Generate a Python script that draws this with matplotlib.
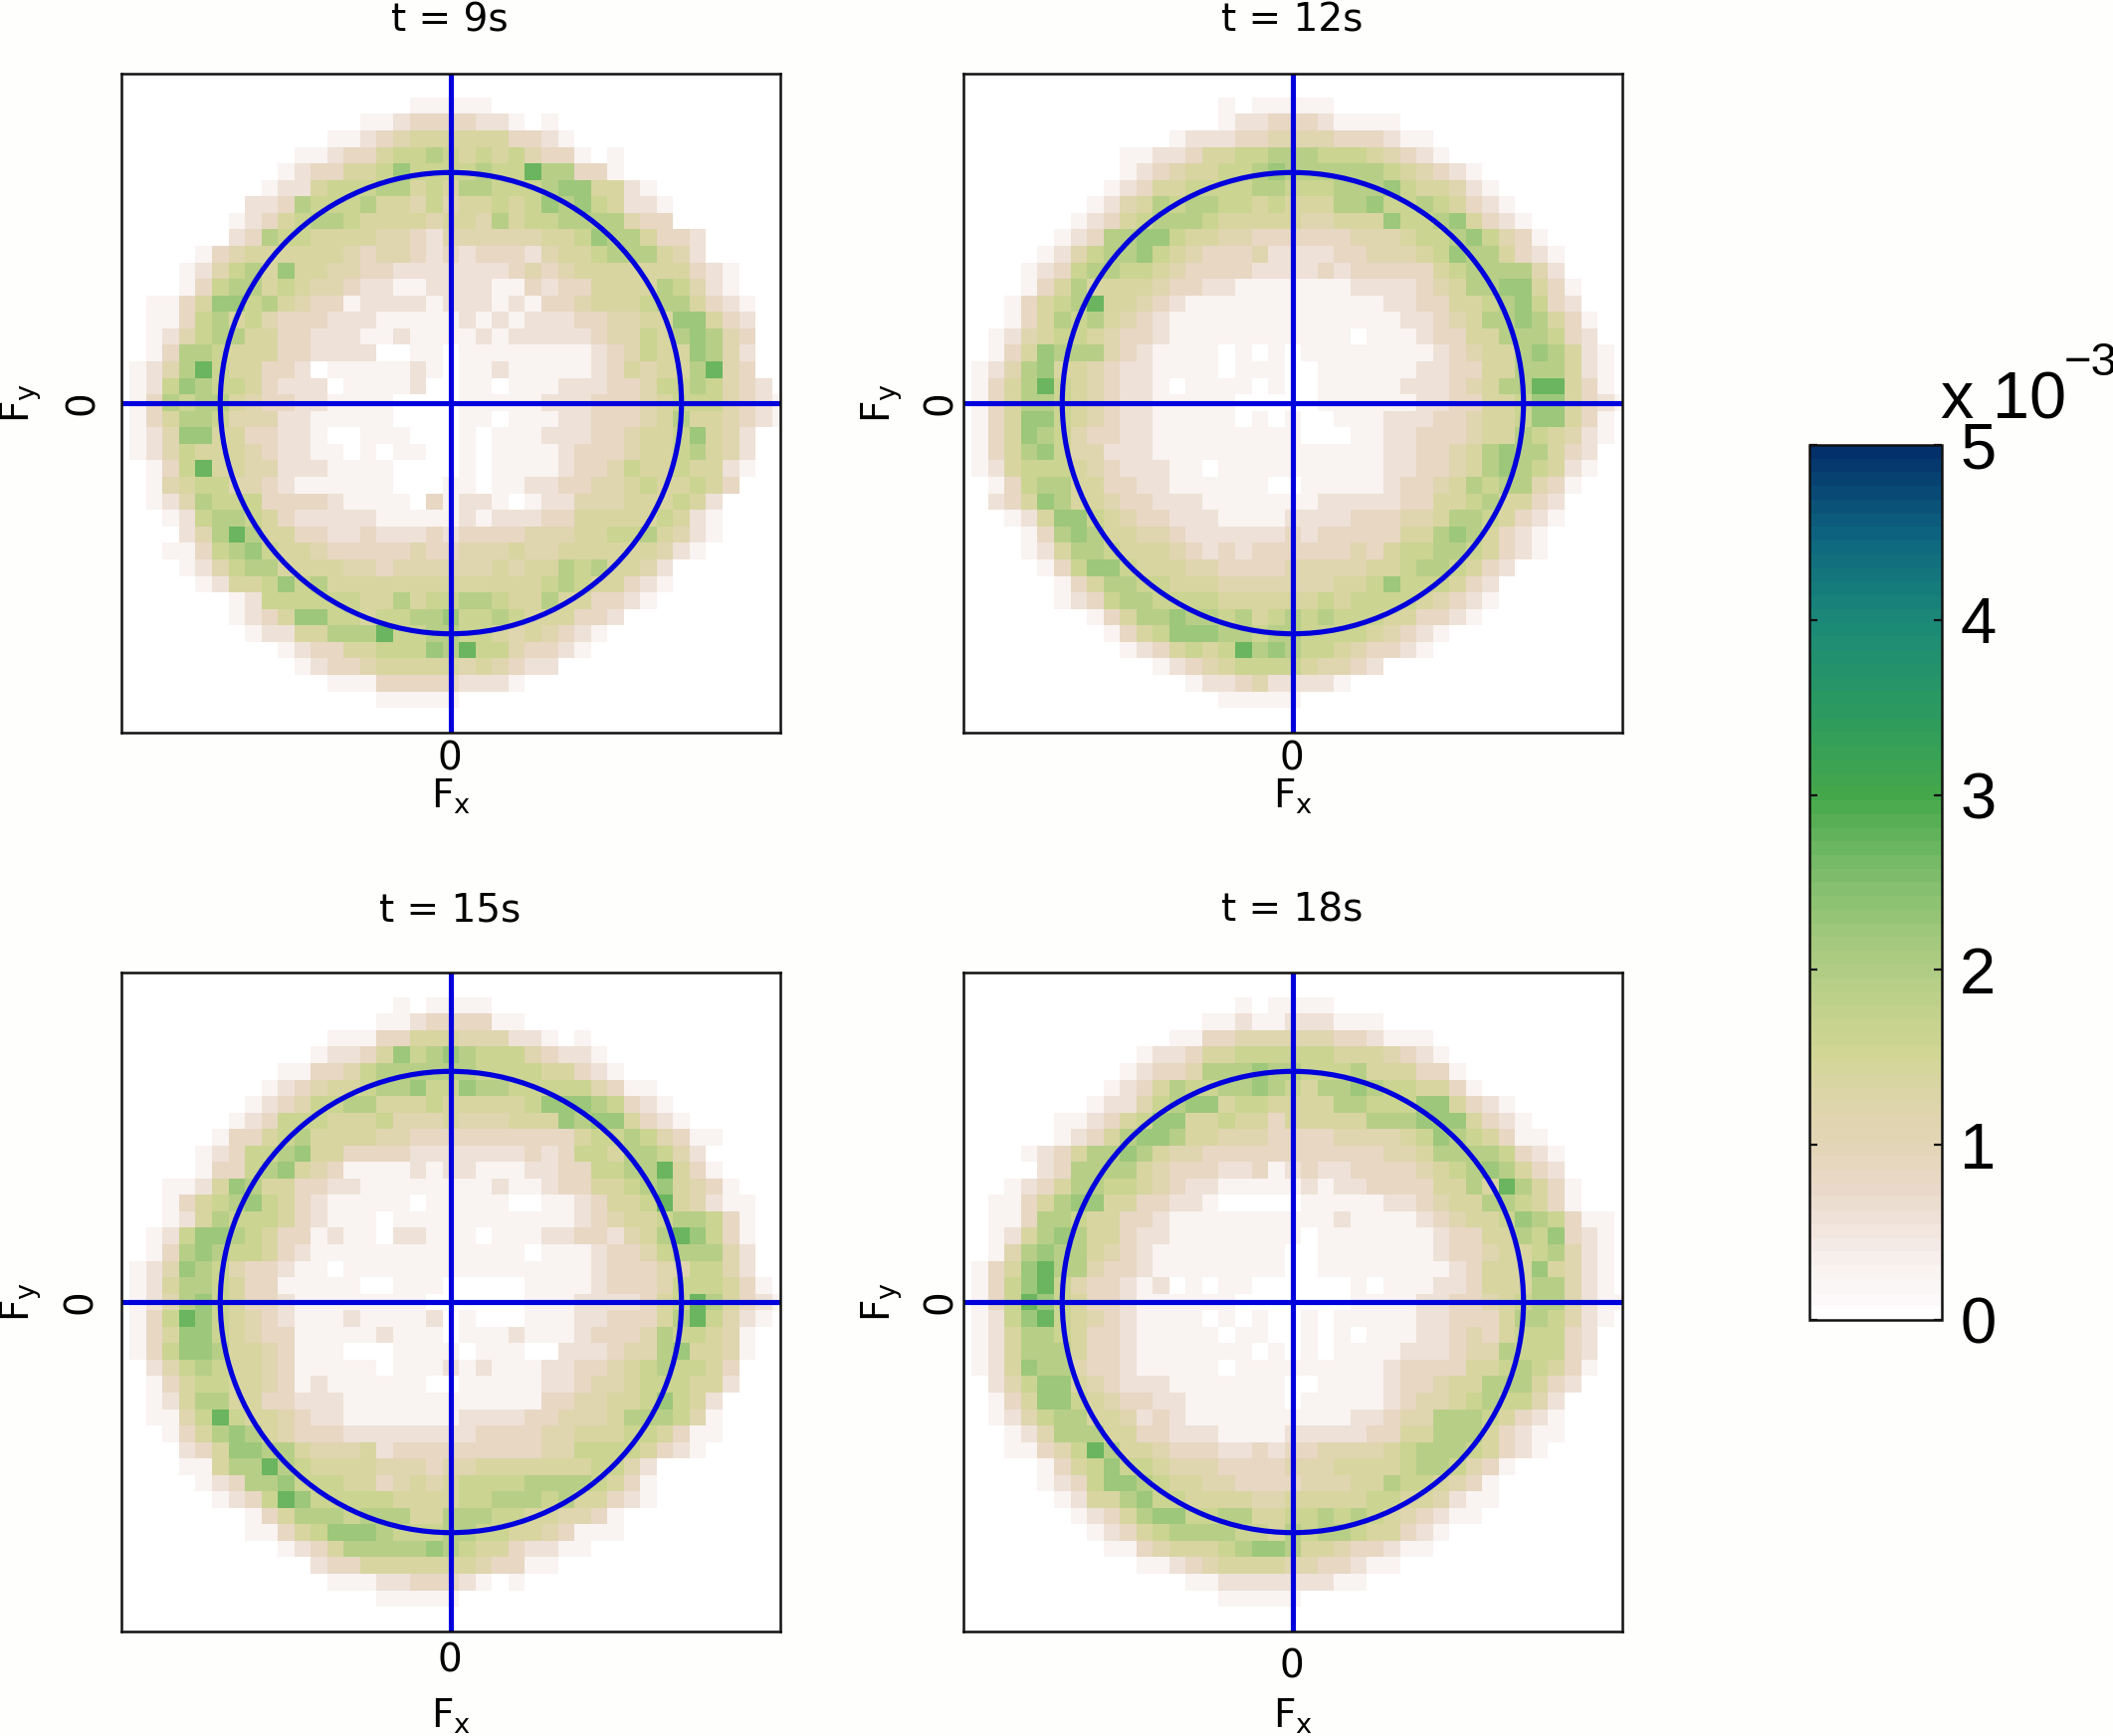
import matplotlib
matplotlib.use("Agg")
import matplotlib.pyplot as plt
import numpy as np
from matplotlib.colors import LinearSegmentedColormap
from matplotlib.patches import Circle

W, H = 2123, 1744

# each digit is a shade, LEVELS gives its value in units of 1e-3
LEVELS = [0.0, 0.3, 0.55, 0.85, 1.1, 1.4, 1.62, 1.9, 2.25, 2.7]

T9 = [
    "0000000000 0000000000 0000000000 0000000000 0",
    "0000000000 0000000000 0000000000 0000000000 0",
    "0000000000 0000000011 1110000000 0000000000 0",
    "0000000000 0000011233 3322101000 0000000000 0",
    "0000000000 0001123455 5555332100 0000000000 0",
    "0000000000 0112335667 6565643310 1000000000 0",
    "0000000000 1233556866 6676697733 1000000000 0",
    "0000000001 2256667756 5776667885 5210000000 0",
    "0000000022 3766675546 4556568786 5221000000 0",
    "0000000123 5677655554 5547566777 7433000000 0",
    "0000000237 6655554432 4444445568 7753320000 0",
    "0000013455 5555434432 3233324556 7775420000 0",
    "0000124675 8554433222 2222343455 5555532100 0",
    "0000136775 6544322112 2221132335 5557642100 0",
    "0011358867 5433122221 2221213345 5567753210 0",
    "0011367564 3332221111 1212122233 4455885320 0",
    "0012467755 3322211211 1121222223 4465787430 0",
    "0013776555 3322220011 0111111112 3465587420 0",
    "0124796553 3201111121 0112111112 3545579430 0",
    "0126876653 2220111120 0110111222 3346676432 0",
    "0137677543 3221111000 0111112223 3345666432 1",
    "0135776444 2211111000 0110111223 3345755432 1",
    "0124885533 2210011100 0101112223 3455685420 0",
    "0124655543 2211010110 0101111233 3455675420 0",
    "0013695544 2221111000 0101111233 4655655210 0",
    "0014566443 2111111000 1101122334 4565565300 0",
    "0012476663 3332111103 1221012244 4555652000 0",
    "0001267765 3222221111 1212223355 5556521000 0",
    "0000247975 5332232223 2333344455 6675421000 0",
    "0001136786 5543333343 3444544555 5554210000 0",
    "0000124677 5555443444 4445455767 5542000000 0",
    "0000012556 8675555555 5555556765 5321000000 0",
    "0000000126 6666655756 6776557553 3210000000 0",
    "0000000123 5886656677 8667655533 2000000000 0",
    "0000000012 2557779667 7665454321 0000000000 0",
    "0000000000 1233556668 7966433210 0000000000 0",
    "0000000000 0123345555 5454322000 0000000000 0",
    "0000000000 0001113333 3222100000 0000000000 0",
    "0000000000 0000001111 1000000000 0000000000 0",
    "0000000000 0000000000 0000000000 0000000000 0",
    "0000000000 0000000000 0000000000 0000000000 0",
]

T12 = [
    "0000000000 0000000000 0000000000 0000000000 0",
    "0000000000 0000000000 0000000000 0000000000 0",
    "0000000000 0000001011 1110000000 0000000000 0",
    "0000000000 0000001223 3321111000 0000000000 0",
    "0000000000 0001222334 4443332110 0000000000 0",
    "0000000000 1122355667 7766654321 0000000000 0",
    "0000000000 1234556678 7777776543 2100000000 0",
    "0000000001 2355666677 6667778655 4210000000 0",
    "0000000012 4576776656 5557786676 5321000000 0",
    "0000000123 5677765555 5445558667 8532100000 0",
    "0000001237 7886554433 3333444566 7864310000 0",
    "0000012467 7865433342 2223344456 8775321000 0",
    "0000123677 6654333322 2232333335 6777742000 0",
    "0000135755 5543322111 1111222234 5778853100 0",
    "0001356795 5432111111 1111112233 5567863200 0",
    "0001357675 4321111111 1111111223 4577875310 0",
    "0012456654 3321111111 1111011123 3557776320 0",
    "0013587774 3211110101 0111111112 3455787521 0",
    "0124785543 2211110111 0011111122 3355777521 0",
    "0135796543 2210111101 0011111222 3457799531 0",
    "0135776543 2211111000 0011111122 3355688532 1",
    "0135886543 2211111010 1001112223 3455688531 0",
    "0135876433 2211111111 1000112233 3455765421 0",
    "0135786442 2211111111 1111112233 4578775320 0",
    "0125666543 2221101111 1111112233 4578765210 0",
    "0013677553 3221111110 0111112334 5767743100 0",
    "0023587554 3322211111 1122222335 5675532000 0",
    "0001258865 4332221111 2222333445 7765321000 0",
    "0000137875 5443222222 3233333557 8753210000 0",
    "0000125776 5554323233 3333435667 7653210000 0",
    "0000013688 6555443333 4444455677 6532000000 0",
    "0000001357 7665554444 4445568666 5320000000 0",
    "0000001236 7766665555 5565666654 3210000000 0",
    "0000000013 5778776756 7676665533 2100000000 0",
    "0000000001 3568887767 7666654321 0000000000 0",
    "0000000000 1235656978 7665433210 0000000000 0",
    "0000000000 0012345666 6544320000 0000000000 0",
    "0000000000 0000122342 2221000000 0000000000 0",
    "0000000000 0000001111 1000000000 0000000000 0",
    "0000000000 0000000000 0000000000 0000000000 0",
    "0000000000 0000000000 0000000000 0000000000 0",
]

T15 = [
    "0000000000 0000000000 0000000000 0000000000 0",
    "0000000000 0000000000 0000000000 0000000000 0",
    "0000000000 0000000101 1110000000 0000000000 0",
    "0000000000 0000001123 3331100000 0000000000 0",
    "0000000000 0001113355 5444221010 0000000000 0",
    "0000000000 0012235867 8766643221 0000000000 0",
    "0000000000 1133467777 7766665532 1000000000 0",
    "0000000001 2345567786 6877666664 3110000000 0",
    "0000000012 3466775556 5555568887 6321000000 0",
    "0000000123 6665556444 5444555878 8532100000 0",
    "0000001335 6755554433 3333333356 6764311000 0",
    "0000012366 7855333322 2222232366 5776420000 0",
    "0000013367 8543111121 2211122336 6779531000 0",
    "0001125875 5332211111 1112112335 5678543100 0",
    "0001356786 5321111101 1111001123 5569542110 0",
    "0001257666 5321110111 1111111123 4556776310 0",
    "0012688765 3312110221 1101112233 2457986310 0",
    "0013787665 3211111111 1111101112 3346777420 0",
    "0124876433 2110111111 1111111112 3334466420 0",
    "0125776533 1111100111 0000011112 3334666531 0",
    "0124786533 2111111110 0000011122 2235697532 1",
    "0136986543 2111211112 0100011122 3335796421 0",
    "0135886543 3111112111 0111211123 3347665410 0",
    "0136887554 3111000111 1011100222 3447855410 0",
    "0024676554 3111110111 2121112233 4567665300 0",
    "0013566554 3121111110 0111112234 4566655200 0",
    "0012577553 3222111111 1111113344 5568652000 0",
    "0011469655 4322111111 1222233444 5777641000 0",
    "0001357875 4333222222 2233334455 5665311000 0",
    "0000235887 7544452333 3333334466 6653210000 0",
    "0000115779 7655554443 4455555556 6420000000 0",
    "0000012377 8666553454 5666677776 5310000000 0",
    "0000001236 9866666555 5667776755 3210000000 0",
    "0000000013 5777677755 7776655443 1000000000 0",
    "0000000011 3568887666 7766554311 1000000000 0",
    "0000000000 1235777778 7655322110 0000000000 0",
    "0000000000 0023355555 5543311000 0000000000 0",
    "0000000000 0001112233 3210100000 0000000000 0",
    "0000000000 0000001111 1000000000 0000000000 0",
    "0000000000 0000000000 0000000000 0000000000 0",
    "0000000000 0000000000 0000000000 0000000000 0",
]

T18 = [
    "0000000000 0000000000 0000000000 0000000000 0",
    "0000000000 0000000000 0000000000 0000000000 0",
    "0000000000 0000000101 1110000000 0000000000 0",
    "0000000000 0000011211 2221110000 0000000000 0",
    "0000000000 0001133444 4443321110 0000000000 0",
    "0000000000 0122355666 6665554321 0000000000 0",
    "0000000000 1233477787 7666755533 1000000000 0",
    "0000000001 2357667787 6577876655 3100000000 0",
    "0000000012 2467885665 5557766688 5321000000 0",
    "0000001123 5688556553 5555577788 8532100000 0",
    "0000001235 7887554443 3334444568 7653110000 0",
    "0000123577 8754433333 3333334457 7776321000 0",
    "0000023777 7543332231 2322333345 6787532000 0",
    "0001235776 6543221111 1212233335 5759753100 0",
    "0011357885 5332210000 0111112234 5577653100 0",
    "0011377655 3321111111 1112111123 4556876311 0",
    "0012578755 3221111111 1011111112 3355768321 0",
    "0014787754 3211111111 0011111112 3345567421 0",
    "0135897743 3211111111 0011111111 2355585421 0",
    "0136896433 2120101100 0000101112 2355577421 0",
    "0136986533 2111111000 0000111122 3345677421 1",
    "0126896543 2111101010 0101111122 3335776421 0",
    "0125776533 2111110110 0101011122 3435666320 0",
    "0125777533 2111111101 0101111222 3447666320 0",
    "0125877433 2111110111 1111112333 3556765310 0",
    "0024688543 2221111111 0011112334 5577753200 0",
    "0013588654 3322111111 0111112344 5676642000 0",
    "0012467755 4232111111 1111223447 7765321000 0",
    "0001247775 5332221111 2222233557 7753211000 0",
    "0001134697 5543332232 3344445677 7653210000 0",
    "0000013568 6654443333 4445555677 6431000000 0",
    "0000012368 8765544333 3444557665 4310000000 0",
    "0000001255 7866555544 5555566554 2110000000 0",
    "0000000123 5788667755 6676765432 1100000000 0",
    "0000000012 3567777665 7677655321 0000000000 0",
    "0000000001 1345556788 7554332110 0000000000 0",
    "0000000000 0112345555 4433211000 0000000000 0",
    "0000000000 0000112222 2221100000 0000000000 0",
    "0000000000 0000001111 1000000000 0000000000 0",
    "0000000000 0000000000 0000000000 0000000000 0",
    "0000000000 0000000000 0000000000 0000000000 0",
]

TITLES = ["t = 9s", "t = 12s", "t = 15s", "t = 18s"]
RADIUS = 14
CBAR_TICKS = [0, 1, 2, 3, 4, 5]

CMAP_VALUES = [0.0, 0.08, 0.24, 0.43, 0.71, 1.0, 1.28, 1.49, 1.9, 2.2, 2.6, 3.0, 3.5, 4.0, 4.5, 5.0]
CMAP_COLORS = ["#ffffff", "#fdf9fa", "#f9f3f1", "#f3e8e3", "#ead9ca", "#e2d5b5", "#dcd5a8", "#d2d695",
               "#b8cf88", "#a0c87c", "#78ba68", "#45a84a", "#2c9a60", "#1b8a78", "#0e6680", "#03306b"]
cmap = LinearSegmentedColormap.from_list(
    "earth", [(v / 5.0, c) for v, c in zip(CMAP_VALUES, CMAP_COLORS)], N=64)


def grid(rows):
    return np.array([[LEVELS[int(c)] for c in r.replace(" ", "")] for r in rows]) * 1e-3


fig = plt.figure(figsize=(W / 100, H / 100), dpi=100, facecolor="#fefefc")


def px_axes(left, top, right, bottom):
    return fig.add_axes([left / W, 1 - bottom / H, (right - left) / W, (bottom - top) / H])


def px_text(x, y, s, **kw):
    fig.text(x / W, 1 - y / H, s, ha=kw.pop("ha", "center"), va=kw.pop("va", "center"), **kw)


# left, top, title y, x-tick y, x-label y, y-tick x, y-label x
layout = [
    (122, 74, 20, 762, 800, 83, 21),
    (968, 74, 20, 762, 800, 945, 886),
    (122, 977, 914, 1668, 1724, 81, 21),
    (968, 977, 914, 1674, 1724, 945, 886),
]
FS = 28

for rows, title, (left, top, ty, xt, xl, yt, yl) in zip([T9, T12, T15, T18], TITLES, layout):
    ax = px_axes(left, top, left + 662, top + 662)
    im = ax.imshow(grid(rows), cmap=cmap, vmin=0, vmax=5e-3, extent=(-20.5, 20.5, 20.5, -20.5),
                   interpolation="nearest", aspect="auto")
    ax.set_xlim(-20, 20)
    ax.set_ylim(20, -20)
    ax.set_xticks([])
    ax.set_yticks([])
    for s in ax.spines.values():
        s.set_linewidth(1.8)
        s.set_color("#111111")
    ax.axhline(0, color="#0000dc", lw=3.7)
    ax.axvline(0, color="#0000dc", lw=3.7)
    ax.add_patch(Circle((0, 0), RADIUS, fill=False, ec="#0000dc", lw=3.7))

    cx = left + 331
    cy = top + 331
    px_text(cx - 1, ty, title, fontsize=FS)
    px_text(cx - 1, xt, "0", fontsize=FS)
    px_text(cx, xl, r"F$_{\mathregular{x}}$", fontsize=FS)
    px_text(yt, cy, "0", fontsize=FS, rotation=90)
    px_text(yl, cy, r"F$_{\mathregular{y}}$", fontsize=FS, rotation=90)

cax = px_axes(1818, 447, 1951, 1326)
cb = fig.colorbar(im, cax=cax, ticks=[t * 1e-3 for t in CBAR_TICKS])
cb.ax.set_yticklabels([str(t) for t in CBAR_TICKS], family="Liberation Sans", fontsize=47)
cb.ax.tick_params(axis="y", which="both", direction="in", left=True, right=True, length=6, width=1.6,
                  pad=13, color="#111111")
cb.outline.set_linewidth(1.8)
cb.outline.set_edgecolor("#111111")

px_text(1950, 420, "x 10", family="Liberation Sans", fontsize=48, ha="left", va="baseline")
px_text(2074, 377, "\u22123", family="Liberation Sans", fontsize=34, ha="left", va="baseline")

fig.savefig("out.png", dpi=100, facecolor=fig.get_facecolor())
